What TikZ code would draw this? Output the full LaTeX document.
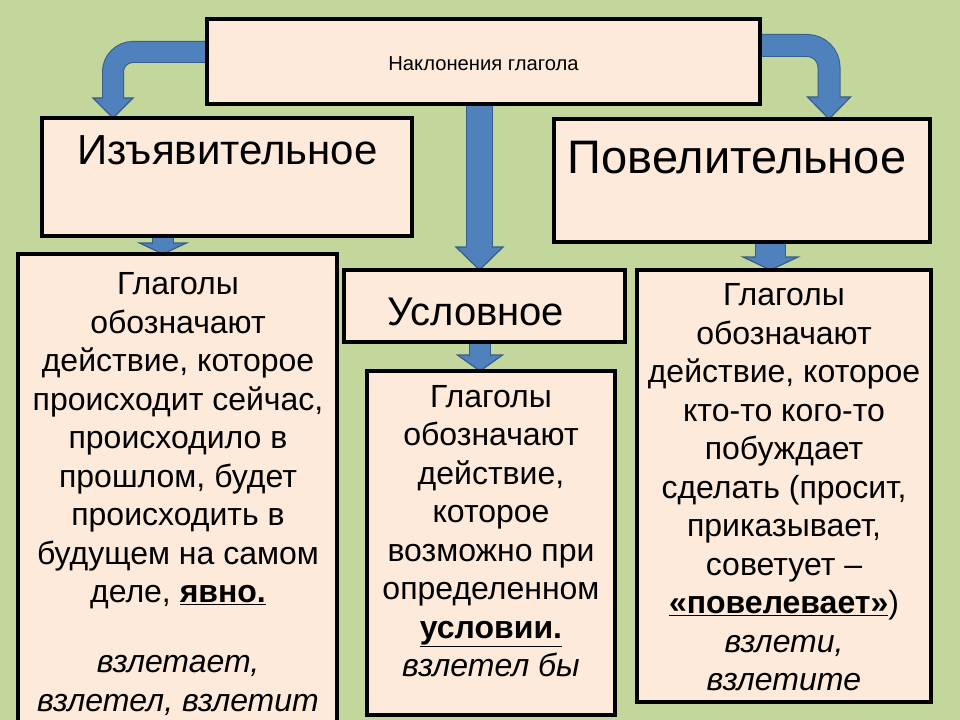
\documentclass[tikz,border=0pt]{standalone}
\usepackage{fontspec}
\setmainfont{Liberation Sans}
\usetikzlibrary{calc}
\pgfdeclarelayer{bg}
\pgfdeclarelayer{arr}
\pgfsetlayers{bg,arr,main}
\definecolor{bggreen}{RGB}{195,214,155}
\definecolor{boxfill}{RGB}{253,234,218}
\definecolor{arrblue}{RGB}{79,129,189}
\definecolor{arrdark}{RGB}{56,93,138}
\tikzset{
  box/.style={draw=black, line width=3.5bp, fill=boxfill, rectangle, inner sep=0pt, outer sep=0pt},
  body/.style={font=\fontsize{32bp}{38.5bp}\selectfont, align=center, inner sep=0pt, anchor=north},
  headtext/.style={anchor=base, inner sep=0pt},
  arrdarkst/.style={draw=arrdark, line cap=butt},
  arrbluest/.style={draw=arrblue, line cap=butt},
  arrheadst/.style={fill=arrblue, draw=arrdark, line width=1.2bp, line join=miter}
}
% #1 path start, #2 head base coordinate, #3 tip, #4 shaft width, #5 half head width, #6 corner radius
\newcommand\barrow[6]{%
  \draw[arrdarkst, line width=#4bp+2bp, rounded corners=#6bp] #1 -- (#2);
  \filldraw[arrheadst] ($(#2)+(-#5,0)$) -- (#3) -- ($(#2)+(#5,0)$) -- cycle;
  \draw[arrbluest, line width=#4bp, rounded corners=#6bp] #1 -- ($(#2)+(0,2.5)$);
}
\begin{document}
\begin{tikzpicture}[x=1bp, y=-1bp]
\useasboundingbox (0,0) rectangle (960,720);
\begin{pgfonlayer}{bg}
  \fill[bggreen] (0,0) rectangle (960,720);
\end{pgfonlayer}

% boxes
\node[box, minimum width=553bp, minimum height=85bp] (top) at (483.5,61.5) {};
\node[box, minimum width=370bp, minimum height=118bp] (ind) at (227,177) {};
\node[box, minimum width=376bp, minimum height=123bp] (imp) at (742,180.5) {};
\node[box, minimum width=281bp, minimum height=72bp] (cond) at (484.5,306) {};
\node[box, minimum width=319bp, minimum height=491bp] (indtxt) at (177.5,499.5) {};
\node[box, minimum width=248bp, minimum height=344bp] (condtxt) at (491,543) {};
\node[box, minimum width=294bp, minimum height=432bp] (imptxt) at (784,486) {};

% headings
\node[headtext, font=\fontsize{20.2bp}{24bp}\selectfont] (tTop) at (483.5,71) {Наклонения глагола};
\node[headtext, font=\fontsize{42bp}{50bp}\selectfont] (tInd) at (227.5,165) {Изъявительное};
\node[headtext, font=\fontsize{47bp}{56bp}\selectfont] (tImp) at (737,174) {Повелительное};
\node[headtext, font=\fontsize{40bp}{48bp}\selectfont] (tCond) at (476,325) {Условное};

% body texts
\node[body] (bInd) at (178,272.5) {Глаголы\\обозначают\\действие, которое\\происходит сейчас,\\происходило в\\прошлом, будет\\происходить в\\будущем на самом\\деле, \underline{\textbf{явно.}}\\[31.5bp]\textit{взлетает,}\\\textit{взлетел, взлетит}};
\node[body] (bCond) at (491,385) {Глаголы\\обозначают\\действие,\\которое\\возможно при\\определенном\\\underline{\textbf{условии.}}\\\textit{взлетел бы}};
\node[body] (bImp) at (784,283.5) {Глаголы\\обозначают\\действие, которое\\кто-то кого-то\\побуждает\\сделать (просит,\\приказывает,\\советует –\\\underline{\textbf{«повелевает»}})\\\textit{взлети,}\\\textit{взлетите}};

% arrows
\begin{pgfonlayer}{arr}
  \coordinate (aC) at (113,52);
  \coordinate (aB) at (113,98);
  \barrow{(top.west |- aC) -- (aC)}{aB}{aB |- ind.north}{20}{20}{20}
  \coordinate (bC) at (829,45.5);
  \coordinate (bB) at (829,97);
  \barrow{(top.east |- bC) -- (bC)}{bB}{bB |- imp.north}{21}{21.5}{22}
  \coordinate (cB) at (479.5,247);
  \barrow{(cB |- top.south)}{cB}{cB |- cond.north}{25}{23.5}{0}
  \coordinate (dB) at (163,243);
  \barrow{(dB |- ind.south)}{dB}{dB |- indtxt.north}{20}{23.5}{0}
  \coordinate (eB) at (770.5,257);
  \barrow{(eB |- imp.south)}{eB}{eB |- imptxt.north}{29}{27.5}{0}
  \coordinate (fB) at (480,355);
  \barrow{(fB |- cond.south)}{fB}{fB |- condtxt.north}{20}{22.5}{0}
\end{pgfonlayer}
\end{tikzpicture}
\end{document}
